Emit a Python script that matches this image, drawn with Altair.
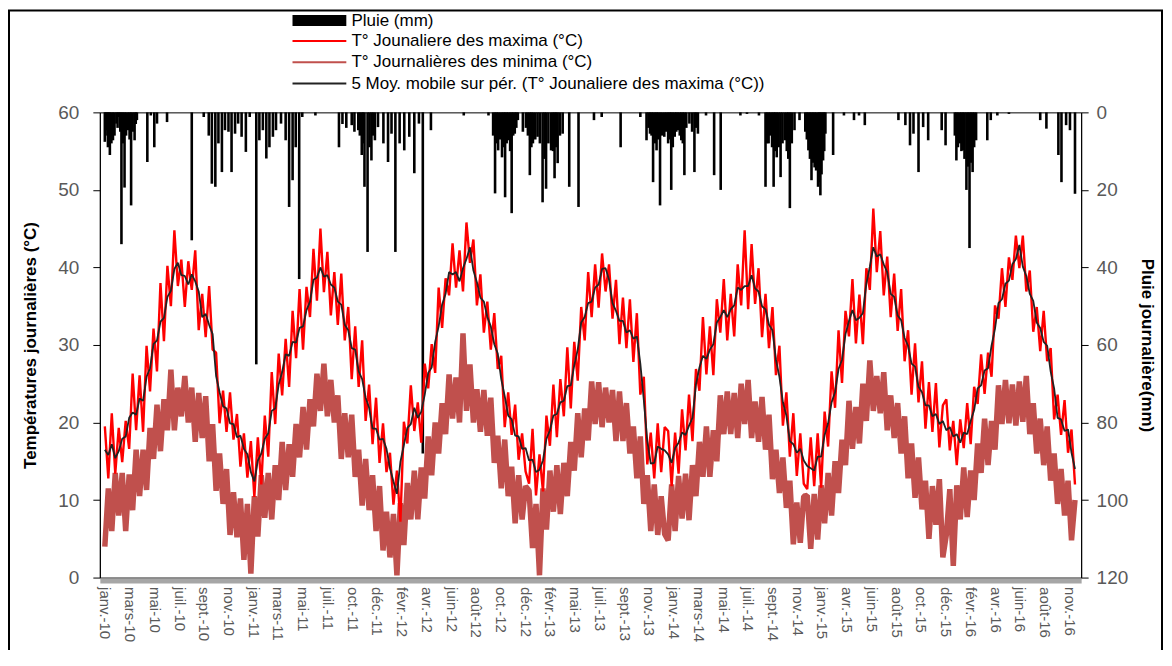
import altair as alt
import pandas as pd

# ---------------- axis tick labels (one every 64 days from 1 Jan 2010) ----------------
tick_labels = [
    "janv.-10", "mars-10", "mai-10", "juil.-10", "sept.-10", "nov.-10",
    "janv.-11", "mars-11", "mai-11", "juil.-11", "oct.-11", "déc.-11",
    "févr.-12", "avr.-12", "juin-12", "août-12", "oct.-12", "déc.-12",
    "févr.-13", "mai-13", "juil.-13", "sept.-13", "nov.-13",
    "janv.-14", "mars-14", "mai-14", "juil.-14", "sept.-14", "nov.-14",
    "janv.-15", "avr.-15", "juin-15", "août-15", "oct.-15", "déc.-15",
    "févr.-16", "avr.-16", "juin-16", "août-16", "nov.-16",
]
TICK_EVERY = 64      # days between two axis labels
SAMPLE_EVERY = 9     # days between two read temperature values
LAST_DAY = 2514

# ---------------- daily maxima (°C), read every 9 days ----------------
tmax_2010 = [19.5, 12.8, 21.2, 13.4, 19.3, 14.9, 20.2, 16.6, 26.3, 19.0,
             26.1, 18.8, 29.9, 24.0, 32.1, 26.6, 38.0, 30.5, 40.2, 35.0,
             44.8, 37.6, 41.0, 34.9, 40.8, 37.1, 42.2, 31.9, 36.6, 31.0,
             37.6, 29.4, 29.0, 19.9, 24.1, 18.8, 23.9, 17.8, 21.1, 14.3, 18.6]
tmax_2011 = [12.9, 17.6, 10.4, 18.1, 12.0, 20.9, 15.6, 26.5, 19.8, 28.9,
             23.5, 30.8, 24.6, 34.4, 28.3, 37.2, 29.4, 37.5, 33.6, 42.4,
             35.7, 45.0, 36.8, 42.0, 33.8, 39.4, 32.6, 39.2, 30.6, 34.9,
             25.6, 32.4, 24.6, 30.6, 20.2, 24.9, 17.2, 23.2, 14.8, 19.9, 13.6]
tmax_2012 = [16.1, 9.4, 13.8, 7.2, 20.1, 17.3, 24.8, 18.9, 22.6, 17.4,
             27.6, 24.4, 30.1, 26.4, 37.4, 32.2, 38.6, 36.4, 43.1, 37.4,
             42.2, 36.9, 45.8, 40.6, 43.6, 35.1, 39.1, 31.6, 35.6, 29.4,
             34.1, 26.9, 28.6, 19.4, 23.9, 18.4, 22.3, 15.2, 18.6, 13.7]
tmax_2013 = [12.1, 19.2, 10.6, 15.9, 11.1, 20.9, 17.0, 24.9, 18.1, 25.6,
             20.8, 29.7, 21.8, 30.4, 25.4, 34.9, 30.6, 39.4, 33.6, 40.4,
             34.8, 41.8, 36.9, 40.4, 33.4, 38.4, 30.1, 36.1, 29.6, 35.9,
             27.8, 34.1, 23.6, 25.9, 14.6, 18.7, 12.8, 19.9, 13.6, 19.4]
tmax_2014 = [18.9, 11.8, 18.7, 13.4, 21.7, 16.4, 23.6, 17.6, 26.9, 24.1,
             33.6, 26.2, 32.4, 26.1, 35.9, 31.6, 38.5, 30.6, 36.6, 31.1,
             40.4, 35.1, 44.8, 34.6, 43.0, 35.3, 39.9, 31.0, 36.6, 29.6,
             34.9, 26.1, 29.9, 19.6, 23.9, 15.6, 21.2, 13.1, 18.6, 12.1]
tmax_2015 = [11.4, 18.1, 11.8, 18.6, 11.6, 21.4, 16.9, 26.6, 21.9, 31.9,
             25.1, 34.4, 31.1, 38.5, 30.2, 36.5, 30.1, 39.9, 37.1, 47.6,
             39.4, 44.7, 36.4, 41.4, 33.6, 39.2, 31.8, 37.2, 27.9, 31.9,
             23.6, 30.2, 22.6, 27.9, 19.2, 25.2, 18.8, 25.1, 16.8, 22.2]
tmax_2016 = [23.0, 16.4, 20.2, 14.5, 20.4, 16.7, 22.5, 17.2, 24.6, 22.4,
             28.8, 23.7, 29.0, 25.9, 35.1, 33.4, 39.9, 34.9, 41.3, 38.4,
             44.1, 39.9, 44.1, 36.9, 39.6, 31.7, 34.9, 29.2, 34.4, 27.9,
             29.6, 20.4, 23.6, 18.4, 22.9, 16.1, 19.1, 12.0]

# ---------------- daily minima (°C) ----------------
tmin_2010 = [4.0, 11.5, 6.0, 13.5, 8.0, 13.5, 6.0, 13.3, 8.7, 16.5,
             10.5, 16.5, 11.3, 19.3, 15.3, 22.3, 16.3, 23.0, 19.0, 26.8,
             19.0, 24.5, 20.8, 26.0, 20.0, 24.5, 17.5, 23.8, 18.0, 23.4,
             15.0, 19.8, 11.2, 16.0, 9.5, 14.0, 5.5, 11.0, 5.2, 10.2, 2.3]
tmin_2011 = [9.5, 0.5, 10.5, 5.3, 13.2, 7.7, 13.5, 7.5, 14.5, 10.0,
             17.5, 11.3, 17.2, 13.0, 19.8, 15.5, 22.0, 16.5, 23.0, 19.5,
             26.3, 21.5, 27.6, 20.8, 25.5, 20.0, 23.5, 15.3, 21.2, 15.5,
             21.0, 13.0, 16.5, 9.3, 15.3, 8.7, 13.2, 6.0, 11.8, 3.5, 8.5]
tmin_2012 = [2.6, 8.2, 0.3, 9.6, 4.2, 12.2, 7.5, 13.8, 7.5, 14.2,
             10.2, 18.2, 13.2, 20.0, 16.0, 22.5, 18.5, 26.2, 20.5, 25.8,
             20.0, 31.5, 21.5, 27.5, 20.0, 24.3, 18.8, 24.2, 18.3, 23.2,
             14.8, 18.3, 11.5, 17.8, 10.5, 14.3, 7.0, 13.2, 7.5, 11.8]
tmin_2013 = [11.2, 3.8, 9.5, 0.3, 11.5, 6.2, 13.8, 8.5, 14.5, 8.2,
             14.8, 10.5, 17.5, 13.8, 21.2, 15.5, 21.8, 17.7, 25.3, 19.8,
             25.2, 19.4, 24.5, 20.0, 24.2, 17.6, 24.0, 17.6, 22.5, 16.0,
             19.5, 12.8, 18.2, 9.5, 13.2, 6.0, 12.0, 5.5, 10.5, 5.6]
tmin_2014 = [4.8, 12.0, 6.0, 13.1, 7.6, 13.4, 7.4, 14.5, 10.5, 17.5,
             13.0, 19.5, 13.0, 19.0, 15.0, 23.5, 18.5, 24.0, 18.5, 23.8,
             18.0, 25.0, 19.8, 25.5, 18.0, 22.7, 17.5, 23.3, 16.5, 21.0,
             12.7, 16.5, 10.9, 15.5, 9.0, 12.5, 4.3, 9.7, 4.5, 10.5]
tmin_2015 = [10.6, 3.7, 10.8, 4.9, 11.9, 7.0, 13.5, 8.0, 15.0, 10.9,
             17.8, 14.5, 22.8, 16.6, 22.0, 17.3, 25.0, 20.2, 28.0, 21.5,
             26.0, 21.2, 26.5, 19.0, 23.5, 18.0, 22.5, 16.0, 20.8, 12.8,
             17.3, 10.3, 15.5, 8.8, 12.5, 5.0, 11.8, 6.8, 12.7, 2.6]
tmin_2016 = [5.5, 11.4, 1.5, 11.9, 7.5, 14.2, 7.8, 13.8, 10.0, 17.3,
             13.5, 20.5, 14.5, 20.2, 16.5, 24.8, 19.8, 25.5, 19.9, 24.9,
             19.6, 25.3, 20.1, 26.0, 18.5, 22.5, 16.0, 20.5, 14.5, 19.5,
             12.5, 16.0, 9.5, 14.0, 8.0, 12.5, 4.8, 10.0]

# ---------------- 5-day moving average of the maxima (°C) ----------------
tma_2010 = [16.5, 15.8, 17.2, 15.4, 16.3, 17.9, 18.2, 20.6, 21.3, 21.0,
            23.1, 22.8, 25.9, 27.0, 30.1, 30.6, 33.0, 33.5, 36.2, 37.0,
            39.8, 40.6, 39.0, 38.9, 37.8, 39.1, 38.2, 36.9, 33.6, 34.0,
            32.6, 31.4, 26.0, 23.9, 22.1, 21.8, 19.9, 19.8, 18.1, 18.3, 16.6]
tma_2011 = [15.9, 13.6, 12.4, 15.1, 16.0, 17.9, 18.6, 21.5, 21.8, 24.9,
            26.5, 28.8, 28.6, 30.4, 30.3, 32.2, 32.4, 34.5, 35.6, 38.4,
            38.7, 40.0, 38.8, 39.0, 37.8, 37.4, 35.6, 35.2, 32.6, 31.9,
            29.6, 29.4, 26.6, 25.6, 23.2, 21.9, 19.2, 19.2, 17.8, 17.9, 16.6]
tma_2012 = [14.1, 12.4, 10.8, 14.9, 17.1, 19.3, 19.8, 21.9, 20.6, 21.4,
            23.6, 26.4, 27.1, 30.4, 32.4, 35.2, 36.6, 39.4, 39.1, 39.4,
            38.2, 39.9, 41.1, 42.6, 39.6, 38.1, 36.1, 35.6, 33.6, 32.4,
            30.1, 28.9, 25.6, 23.4, 20.9, 20.4, 18.3, 18.2, 16.6, 16.7]
tma_2013 = [15.1, 15.2, 13.6, 13.9, 15.1, 17.9, 19.0, 20.9, 21.1, 22.6,
            22.8, 24.7, 24.8, 27.4, 29.4, 32.9, 33.6, 35.4, 35.6, 37.4,
            37.8, 39.8, 39.9, 38.4, 35.4, 34.4, 33.1, 33.1, 31.6, 31.9,
            30.8, 31.1, 27.6, 22.9, 17.6, 14.7, 14.8, 16.9, 16.6, 16.4]
tma_2014 = [15.9, 14.8, 16.7, 17.4, 18.7, 18.4, 19.6, 20.6, 24.9, 27.1,
            28.6, 28.2, 29.4, 30.1, 32.9, 33.6, 34.5, 33.6, 34.6, 35.1,
            37.4, 37.1, 37.6, 37.6, 39.0, 37.3, 36.9, 35.0, 34.6, 32.6,
            31.9, 28.1, 25.9, 22.6, 20.9, 17.6, 17.2, 16.1, 16.6, 15.1]
tma_2015 = [14.4, 14.1, 13.8, 15.6, 15.6, 18.4, 19.9, 22.6, 23.9, 26.9,
            28.1, 31.4, 33.1, 34.5, 33.2, 33.5, 34.1, 37.9, 40.1, 42.6,
            41.4, 41.7, 40.4, 39.4, 36.6, 36.2, 33.8, 33.2, 30.9, 29.9,
            27.6, 27.2, 24.6, 23.9, 22.2, 22.2, 20.8, 21.1, 19.8, 20.2]
tma_2016 = [19.0, 19.4, 18.2, 18.5, 17.4, 18.7, 18.5, 20.2, 21.6, 24.4,
            24.8, 26.7, 27.0, 29.9, 32.1, 35.4, 35.9, 37.9, 38.3, 40.4,
            41.1, 42.9, 40.1, 38.9, 36.6, 35.7, 32.9, 32.2, 30.4, 29.9,
            26.6, 24.4, 20.6, 20.4, 18.9, 19.1, 16.1, 14.0]

# ---------------- daily rain (day number since 1 Jan 2010, mm) ----------------
rain_day = [0, 2, 5, 8, 10, 13, 17, 21, 25, 30, 33, 36, 40, 43, 47, 51, 55, 60, 64, 68,
            72, 77, 80, 83, 110, 119, 128, 135, 161, 225, 256, 269, 277, 286, 294, 303, 311,
            320, 328, 337, 345, 354, 365, 375, 392, 400, 409, 418, 426, 435, 443, 456, 468,
            477, 486, 494, 503, 511, 545, 606, 615, 625, 639, 646, 656, 660, 665, 668, 672,
            680, 685, 690, 694, 699, 707, 721, 733, 742, 752, 763, 775, 788, 801, 813, 823,
            844, 929, 993, 1005, 1010, 1014, 1018, 1023, 1028, 1032, 1036, 1040, 1044, 1049,
            1053, 1057, 1061, 1065, 1069, 1082, 1090, 1095, 1100, 1104, 1108, 1114, 1120,
            1126, 1133, 1138, 1142, 1148, 1155, 1160, 1164, 1168, 1172, 1178, 1185, 1202,
            1226, 1266, 1286, 1335, 1386, 1402, 1407, 1411, 1415, 1419, 1424, 1428, 1432,
            1437, 1442, 1448, 1453, 1458, 1462, 1466, 1470, 1475, 1479, 1483, 1488, 1492,
            1496, 1500, 1505, 1513, 1520, 1526, 1530, 1535, 1556, 1577, 1594, 1645, 1662,
            1693, 1710, 1714, 1718, 1722, 1727, 1731, 1735, 1739, 1744, 1749, 1754, 1760,
            1765, 1769, 1773, 1778, 1785, 1798, 1813, 1817, 1821, 1825, 1829, 1833, 1837,
            1841, 1846, 1849, 1852, 1855, 1859, 1862, 1865, 1885, 1913, 1939, 1952, 1967,
            2054, 2072, 2084, 2093, 2106, 2118, 2131, 2166, 2176, 2200, 2204, 2208, 2213,
            2217, 2221, 2225, 2230, 2234, 2238, 2242, 2246, 2250, 2255, 2284, 2293, 2310,
            2340, 2421, 2437, 2468, 2476, 2488, 2498, 2511]
rain_mm = [7.6, 6, 4.6, 9, 5, 11, 8, 7.2, 6, 2.9, 4, 1.2, 5, 34, 8, 19.4, 6, 4.6, 7, 24,
           5, 7.2, 3, 2, 12.8, 0.8, 9, 2.9, 2.5, 33, 1.2, 6, 18.4, 19.2, 8, 15.4, 4.6,
           5, 15.4, 5.5, 2.9, 6.3, 10.2, 1.2, 65, 7.2, 4.6, 11.9, 9, 6.3, 4.6, 2.9, 7.2,
           24.4, 17.5, 9, 43, 1.2, 0.8, 9, 3, 4, 3.3, 5, 4.6, 6, 11, 8, 19.2,
           36, 9, 12.4, 6, 7.2, 3.8, 8, 12.8, 5.5, 36, 8, 9.8, 6.3, 15.7, 2.9, 88,
           4.6, 0.8, 0.8, 6, 20.9, 8, 9.8, 7, 11.6, 9, 21.9, 8, 7.2, 10,
           26, 6, 5.5, 4, 2, 5, 4, 6, 16.2, 9, 8, 7, 6.3,
           8, 23.2, 12, 19.7, 8, 9.8, 10, 17, 9, 13.1, 6, 5.5, 19.2,
           24.4, 2, 1.2, 9, 1.2, 7.2, 4, 5.5, 6, 18, 8, 9.8, 7,
           24, 6, 6.3, 5, 8, 7, 20, 9, 6.3, 5, 4.6, 6, 7.2,
           8, 16.2, 4, 2.9, 5, 15.4, 4, 5.5, 0.8, 16.2, 20, 0.8, 0.4,
           0.8, 19.2, 8, 8, 6, 9, 19.2, 10, 11.6, 9, 16.7, 8, 7.2,
           10, 12, 24.7, 8, 4.6, 2, 5, 7, 9.8, 12, 17.5, 13, 14.2,
           15, 19.2, 18, 21.4, 16, 12.4, 10, 5.5, 11, 0.8, 2, 0.8, 3.3,
           2, 3.3, 8.5, 5.5, 15.4, 3.8, 7.2, 4.6, 8.5, 6, 12.4, 9, 8,
           10, 9.8, 12, 20, 14, 35, 13, 15.4, 9, 7.2, 7.2, 2, 0.8,
           0.4, 2, 4.2, 11, 18, 3.3, 4.6, 21]

LBL_RAIN = "Pluie (mm)"
LBL_MAX = "T° Jounaliere des maxima (°C)"
LBL_MIN = "T° Journalières des minima (°C)"
LBL_MA = "5 Moy. mobile sur pér. (T° Jounaliere des maxima (°C))"

tmax = tmax_2010 + tmax_2011 + tmax_2012 + tmax_2013 + tmax_2014 + tmax_2015 + tmax_2016
tmin = tmin_2010 + tmin_2011 + tmin_2012 + tmin_2013 + tmin_2014 + tmin_2015 + tmin_2016
tma = tma_2010 + tma_2011 + tma_2012 + tma_2013 + tma_2014 + tma_2015 + tma_2016


def series_frame(values, label):
    return pd.DataFrame({
        "day": [SAMPLE_EVERY * i for i in range(len(values))],
        "t": values,
        "serie": label,
    })


temp_df = pd.concat([series_frame(tmin, LBL_MIN), series_frame(tmax, LBL_MAX),
                     series_frame(tma, LBL_MA)], ignore_index=True)
rain_df = pd.DataFrame({"day": rain_day, "mm": rain_mm, "lab": LBL_RAIN})

FONT = "Liberation Sans"
label_array = "[" + ",".join("'" + s + "'" for s in tick_labels) + "]"

x_enc = alt.X(
    "day:Q",
    scale=alt.Scale(domain=[0, LAST_DAY], nice=False, zero=False),
    axis=alt.Axis(
        values=[TICK_EVERY * i for i in range(len(tick_labels))],
        labelExpr=label_array + "[round(datum.value / " + str(TICK_EVERY) + ")]",
        labelAngle=90, labelAlign="left", labelBaseline="middle",
        labelFontSize=15, labelColor="#595959", labelFont=FONT,
        labelPadding=6, labelOverlap=False, labelFlush=False,
        ticks=False, domainColor="#a6a6a6", domainWidth=5, offset=3,
        grid=False, title=None,
    ),
)

left_axis = alt.Axis(
    orient="left", values=[0, 10, 20, 30, 40, 50, 60],
    title="Températures journalières (°C)", titleFont=FONT, titleFontSize=17,
    titleFontWeight="bold", titleColor="#000000", titlePadding=18,
    labelFont=FONT, labelFontSize=19, labelColor="#595959", labelPadding=14,
    labelFlush=False, tickSize=7, tickColor="#000000",
    domainColor="#000000", domainWidth=1, grid=False,
)
right_axis = alt.Axis(
    orient="right", values=[0, 20, 40, 60, 80, 100, 120],
    title="Pluie journalière(mm)", titleFont=FONT, titleFontSize=17,
    titleFontWeight="bold", titleColor="#000000", titlePadding=10,
    labelFont=FONT, labelFontSize=19, labelColor="#595959", labelPadding=8,
    labelFlush=False, tickSize=7, tickColor="#000000",
    domainColor="#000000", domainWidth=1, grid=False,
)

rain_legend = alt.Legend(
    orient="none", legendX=190, legendY=-100.5, title=None, padding=0,
    symbolType="M-1,-1L8.8,-1L8.8,1L-1,1Z", symbolSize=121, symbolStrokeWidth=0,
    labelFont=FONT, labelFontSize=17, labelColor="#000000", labelOffset=45,
    labelLimit=1000,
)
line_legend = alt.Legend(
    orient="none", legendX=190, legendY=-80, title=None, padding=0,
    symbolType="M-1,0L8.8,0", symbolSize=121, symbolStrokeWidth=2,
    labelFont=FONT, labelFontSize=17, labelColor="#000000", labelOffset=45,
    labelLimit=1000, rowPadding=3.3, direction="vertical",
)

stroke_scale = alt.Scale(domain=[LBL_MAX, LBL_MIN, LBL_MA],
                         range=["#ff0000", "#C0504D", "#222222"])

bars = alt.Chart(rain_df).mark_bar(size=2.6, orient="vertical").encode(
    x=x_enc,
    y=alt.Y("mm:Q", scale=alt.Scale(domain=[0, 120], reverse=True), axis=right_axis),
    color=alt.Color("lab:N", scale=alt.Scale(domain=[LBL_RAIN], range=["#000000"]),
                    legend=rain_legend),
)


def temp_line(label, width):
    return alt.Chart(temp_df).transform_filter(alt.datum.serie == label).mark_line(
        strokeWidth=width, clip=True, strokeJoin="bevel"
    ).encode(
        x=x_enc,
        y=alt.Y("t:Q", scale=alt.Scale(domain=[0, 60]), axis=left_axis),
        stroke=alt.Stroke("serie:N", scale=stroke_scale, legend=line_legend),
    )


temps = alt.layer(temp_line(LBL_MIN, 5.5), temp_line(LBL_MAX, 2.4), temp_line(LBL_MA, 1.8))

# thin black frame around the whole figure, as in the original screenshot
frame = alt.Chart(pd.DataFrame({"k": [0]})).mark_rect(
    filled=False, stroke="#000000", strokeWidth=2
).encode(x=alt.value(-91), x2=alt.value(1064), y=alt.value(-102), y2=alt.value(700))

chart = alt.layer(bars, temps, frame).resolve_scale(y="independent").properties(
    width=983, height=466,
    padding={"left": 92, "top": 104, "right": 83, "bottom": 72},
    autosize=alt.AutoSizeParams(type="none"),
).configure(font=FONT).configure_view(stroke="#000000", strokeWidth=1)

chart.save("out.html", embed_options={"renderer": "svg", "actions": False})
